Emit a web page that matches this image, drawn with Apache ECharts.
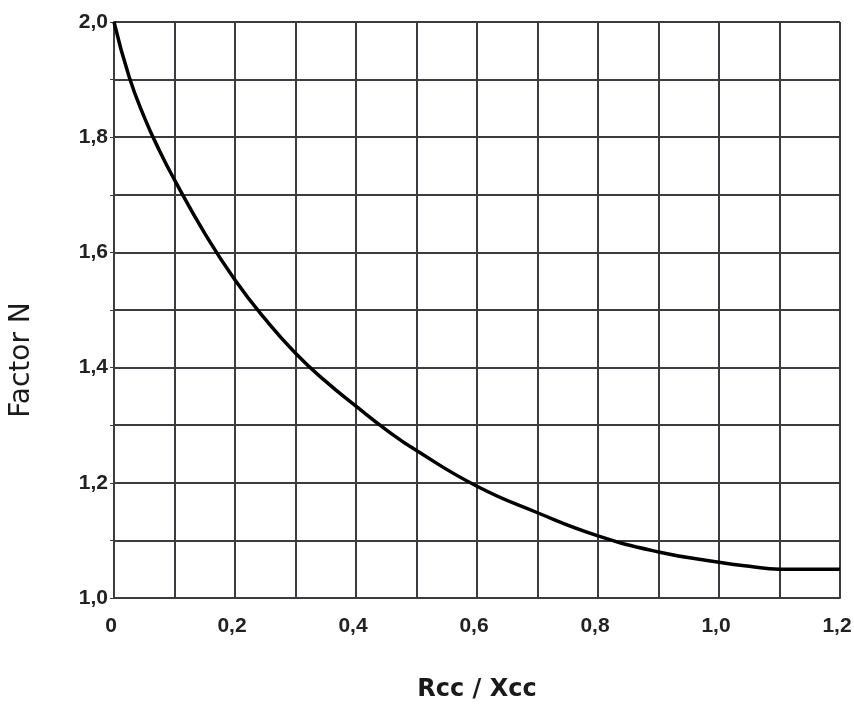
<!DOCTYPE html>
<html>
<head>
<meta charset="utf-8">
<script src="https://cdn.jsdelivr.net/npm/echarts@6/dist/echarts.min.js"></script>
<style>
  html, body { margin: 0; padding: 0; background: #fff; }
  #chart { width: 854px; height: 708px; }
</style>
</head>
<body>
<div id="chart"></div>
<script>
// Rcc / Xcc ratio and matching factor N
var ratio = [0, 0.025, 0.05, 0.075, 0.1, 0.15, 0.2, 0.25, 0.3, 0.35, 0.4, 0.45, 0.5, 0.6, 0.7, 0.8, 0.9, 1.0, 1.05, 1.1, 1.15, 1.2];
var factorN = [2.0, 1.905, 1.835, 1.777, 1.726, 1.633, 1.552, 1.484, 1.425, 1.376, 1.333, 1.292, 1.256, 1.194, 1.148, 1.108, 1.08, 1.062, 1.055, 1.05, 1.05, 1.05];

var points = [];
for (var i = 0; i < ratio.length; i++) {
    points.push([ratio[i], factorN[i]]);
}

function comma(v) {
    if (v === 0) return '0';
    return v.toFixed(1).replace('.', ',');
}

var gridColor = '#3f3a42';
var myChart = echarts.init(document.getElementById('chart'));
var option = {
    animation: false,
    grid: {
        left: 114,
        right: 14,
        top: 22,
        bottom: 110,
        containLabel: false,
        outerBoundsMode: 'none'
    },
    xAxis: {
        type: 'value',
        min: 0,
        max: 1.2,
        interval: 0.2,
        name: 'Rcc / Xcc',
        nameLocation: 'middle',
        nameGap: 80,
        nameTextStyle: {
            fontFamily: 'DejaVu Sans',
            fontWeight: 'bold',
            fontSize: 24,
            color: '#1a1a1a'
        },
        axisLine: { lineStyle: { color: gridColor, width: 2 } },
        axisTick: { show: false },
        axisLabel: {
            margin: 18,
            padding: [0, 6, 0, 0],
            formatter: comma,
            fontFamily: 'Liberation Sans',
            fontWeight: 'bold',
            fontSize: 21,
            color: '#222'
        },
        splitLine: { show: true, lineStyle: { color: gridColor, width: 2 } },
        minorTick: { show: false, splitNumber: 2 },
        minorSplitLine: { show: true, lineStyle: { color: gridColor, width: 2 } }
    },
    yAxis: {
        type: 'value',
        min: 1.0,
        max: 2.0,
        interval: 0.2,
        name: 'Factor N',
        nameLocation: 'middle',
        nameGap: 78,
        nameTextStyle: {
            fontFamily: 'DejaVu Sans',
            fontSize: 28,
            color: '#1a1a1a',
            padding: [0, 100, 0, 0]
        },
        axisLine: { show: true, lineStyle: { color: gridColor, width: 2 } },
        axisTick: { show: true, length: 4, lineStyle: { color: gridColor, width: 1 } },
        axisLabel: {
            margin: 6,
            formatter: function (v) { return v.toFixed(1).replace('.', ','); },
            fontFamily: 'Liberation Sans',
            fontWeight: 'bold',
            fontSize: 21,
            color: '#222'
        },
        splitLine: { show: true, lineStyle: { color: gridColor, width: 2 } },
        minorTick: { show: true, splitNumber: 2, length: 4, lineStyle: { color: gridColor } },
        minorSplitLine: { show: true, lineStyle: { color: gridColor, width: 2 } }
    },
    series: [
        {
            type: 'line',
            data: points,
            smooth: true,
            symbol: 'none',
            lineStyle: { color: '#000', width: 3.5 }
        }
    ]
};
myChart.setOption(option);
</script>
</body>
</html>
